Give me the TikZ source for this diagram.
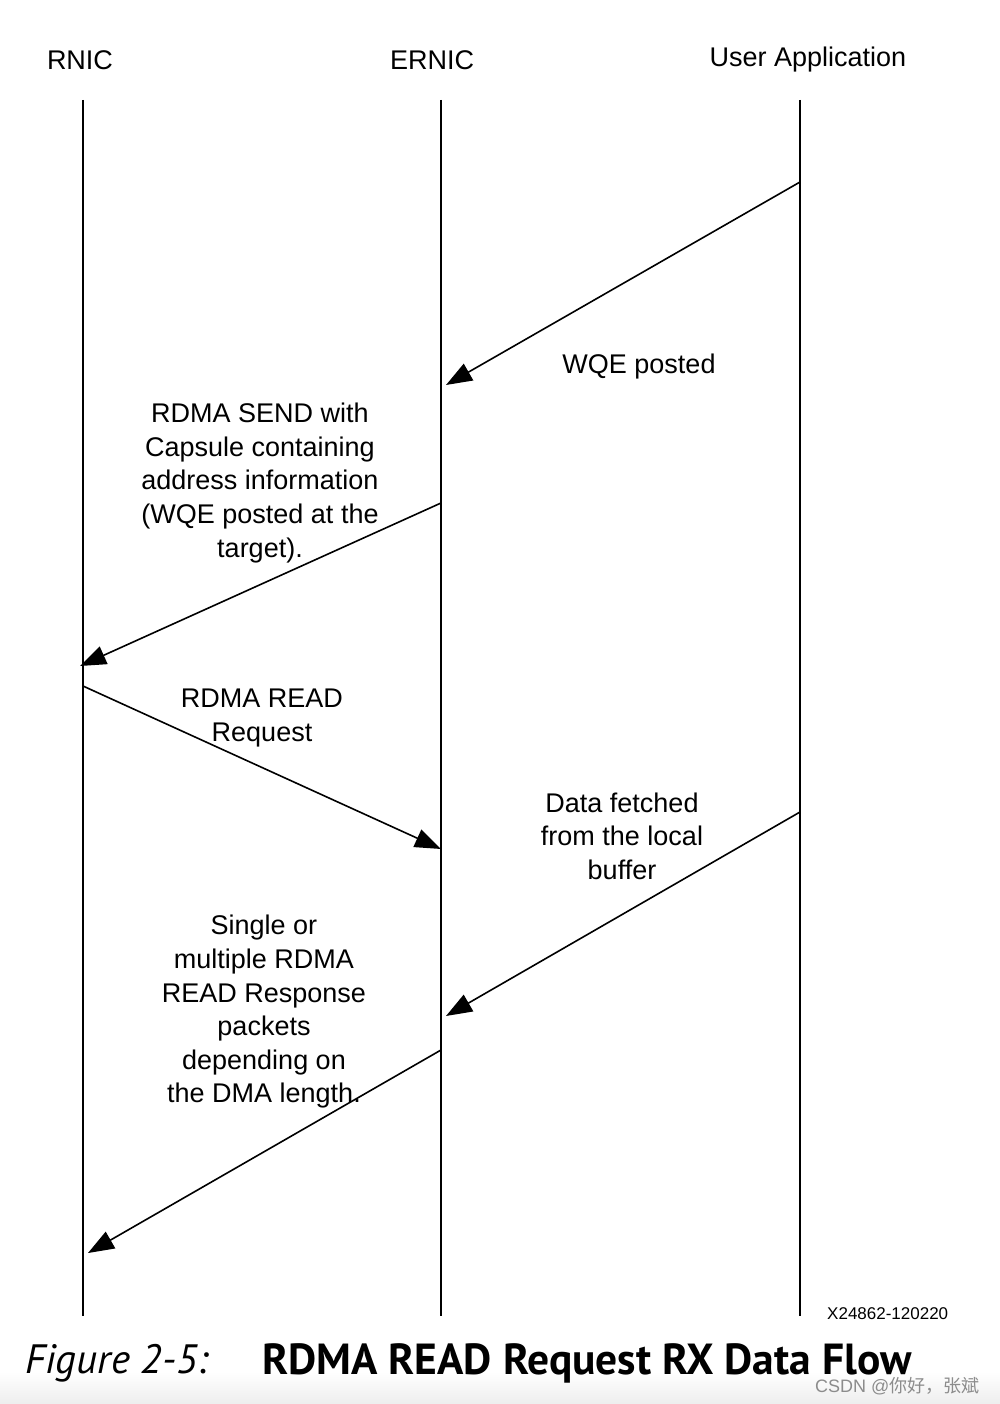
\documentclass[tikz,border=0pt]{standalone}
\usepackage{fontspec}
\setmainfont{Liberation Sans}
\newfontfamily\capfont{PT Sans}
\newfontfamily\cjk{Noto Sans CJK SC}
\usetikzlibrary{arrows.meta}
\begin{document}
\begin{tikzpicture}[x=1pt,y=-1pt,
  lifeline/.style={line width=1.6pt},
  msg/.style={line width=1.6pt,-{Triangle[length=26pt,width=19pt]}},
  lbl/.style={font=\fontsize{27}{33.6}\selectfont,align=center,inner sep=0pt},
  hdr/.style={font=\fontsize{27}{30}\selectfont,inner sep=0pt}]
\useasboundingbox (0,0) rectangle (1000,1404);
\shade[top color=white,bottom color=black!7] (0,1372) rectangle (1000,1404);
% headers
\node[hdr] (hR) at (80,60) {RNIC};
\node[hdr] (hE) at (432,60) {ERNIC};
\node[hdr] (hU) at (808,60) {User Application};
% lifelines
\coordinate (Rt) at (83,100); \coordinate (Rb) at (83,1316);
\coordinate (Et) at (441,100); \coordinate (Eb) at (441,1316);
\coordinate (Ut) at (800,100); \coordinate (Ub) at (800,1316);
\draw[lifeline] (Rt) -- (Rb);
\draw[lifeline] (Et) -- (Eb);
\draw[lifeline] (Ut) -- (Ub);
% message points
\coordinate (m1s) at (800,182); \coordinate (m1e) at (446,385);
\coordinate (m2s) at (441,503); \coordinate (m2e) at (80,666);
\coordinate (m3s) at (83,686);  \coordinate (m3e) at (441,849);
\coordinate (m4s) at (800,812); \coordinate (m4e) at (446,1016);
\coordinate (m5s) at (441,1050); \coordinate (m5e) at (88,1253);
\draw[msg] (m1s) -- (m1e);
\draw[msg] (m2s) -- (m2e);
\draw[msg] (m3s) -- (m3e);
\draw[msg] (m4s) -- (m4e);
\draw[msg] (m5s) -- (m5e);
% labels
\node[lbl] (l1) at (639,367) {WQE posted};
\node[lbl] (l2) at (260,483) {RDMA SEND with\\Capsule containing\\address information\\(WQE posted at the\\target).};
\node[lbl] (l3) at (262,718) {RDMA READ\\Request};
\node[lbl] (l4) at (622,836) {Data fetched\\from the local\\buffer};
\node[lbl] (l5) at (264,1012) {Single or\\multiple RDMA\\READ Response\\packets\\depending on\\the DMA length.};
\node[inner sep=0pt,anchor=west,font=\fontsize{17}{19}\selectfont] (id) at (827,1314) {X24862-120220};
% caption
\node[inner sep=0pt,anchor=west,font=\capfont\itshape\fontsize{41}{44}\selectfont] (cap1) at (25,1363) {Figure 2-5:};
\node[inner sep=0pt,anchor=west,font=\capfont\bfseries\fontsize{43.5}{46}\selectfont] (cap2) at (262,1363) {RDMA READ Request RX Data Flow};
\node[inner sep=0pt,anchor=west,text=black!45,font=\fontsize{18}{20}\selectfont] (wm) at (815,1386) {CSDN @{\cjk 你好，张斌}};
\end{tikzpicture}
\end{document}
